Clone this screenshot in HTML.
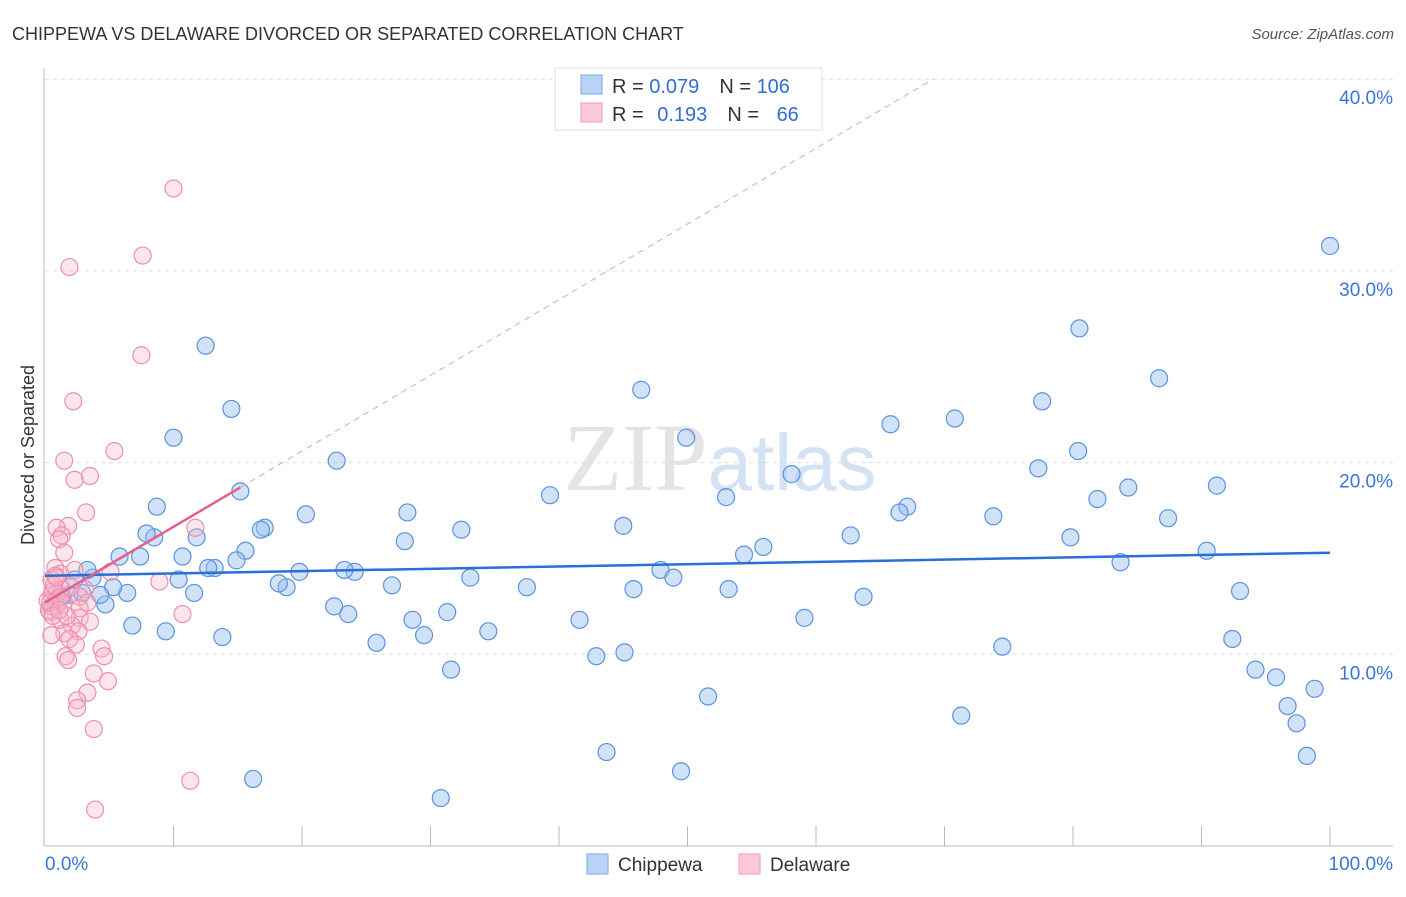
<!DOCTYPE html>
<html><head><meta charset="utf-8"><style>
body{margin:0;background:#fff;font-family:"Liberation Sans",sans-serif;}
svg text{font-family:"Liberation Sans",sans-serif;}
</style></head><body>
<svg id="chart" width="1406" height="892" xmlns="http://www.w3.org/2000/svg">
<text x="12" y="40" font-size="18" fill="#333">CHIPPEWA VS DELAWARE DIVORCED OR SEPARATED CORRELATION CHART</text>
<text x="1394" y="39" font-size="15" fill="#555" text-anchor="end" font-style="italic">Source: ZipAtlas.com</text>
<text x="720" y="490" font-size="96" text-anchor="middle" fill="#e4e4e4"><tspan font-family="Liberation Serif">ZIP</tspan><tspan fill="#d4e2f4" font-size="80">atlas</tspan></text>
<g id="grid"></g><g id="axes"></g><g id="pts"></g><g id="lines"></g>
<text transform="translate(34,455) rotate(-90)" font-size="18" fill="#333" text-anchor="middle">Divorced or Separated</text>
<g>
<rect x="555" y="68" width="267" height="62" fill="#fff" stroke="#ddd"/>
<rect x="581" y="75" width="21" height="19" fill="#b8d3f5" stroke="#7aa8e6"/>
<rect x="581" y="103" width="21" height="19" fill="#fcc9d8" stroke="#ef9ab4"/>
<text x="612" y="93" font-size="20" fill="#333">R = <tspan fill="#2f6fd1">0.079</tspan><tspan dx="20">N = </tspan><tspan fill="#2f6fd1">106</tspan></text>
<text x="612" y="121" font-size="20" fill="#333">R = <tspan fill="#2f6fd1" dx="8">0.193</tspan><tspan dx="20">N = </tspan><tspan fill="#2f6fd1" dx="12">66</tspan></text>
</g>
<g>
<rect x="587" y="854" width="21" height="20" fill="#b8d3f5" stroke="#7aa8e6"/>
<text x="618" y="871" font-size="19" fill="#333">Chippewa</text>
<rect x="739" y="854" width="21" height="20" fill="#fcc9d8" stroke="#ef9ab4"/>
<text x="770" y="871" font-size="19" fill="#333">Delaware</text>
</g>
</svg>
<script>
const blueX=[100,80.5,86.7,77.6,70.8,65.8,80.4,77.3,91.2,84.3,81.9,87.4,73.8,67.1,66.5,79.8,62.7,90.4,83.7,93.0,63.7,59.1,92.4,74.5,94.2,95.8,98.8,96.7,97.4,98.2,71.3,58.1,55.9,54.4,53.2,53.0,49.9,46.4,47.9,48.9,45.8,45.0,45.1,42.9,41.6,43.7,49.5,51.6,39.3,37.5,33.1,32.4,34.5,31.3,31.6,30.8,29.5,28.6,28.2,28.0,27.0,25.8,24.1,23.3,23.6,22.5,22.7,20.3,19.8,18.8,18.2,17.1,16.8,15.6,15.2,14.9,14.5,16.2,13.8,13.2,12.7,12.5,11.8,11.6,10.7,10.4,10.0,9.4,8.7,8.5,7.9,7.4,6.8,6.4,5.8,5.3,4.7,4.3,3.7,3.3,2.9,2.3,1.9,1.3,0.8,0.5,0.9];
const blueY=[31.3,27.0,24.4,23.2,22.3,22.0,20.6,19.7,18.8,18.7,18.1,17.1,17.2,17.7,17.4,16.1,16.2,15.4,14.8,13.3,13.0,11.9,10.8,10.4,9.2,8.8,8.2,7.3,6.4,4.7,6.8,19.4,15.6,15.2,13.4,18.2,21.3,23.8,14.4,14.0,13.4,16.7,10.1,9.9,11.8,4.9,3.9,7.8,18.3,13.5,14.0,16.5,11.2,12.2,9.2,2.5,11.0,11.8,17.4,15.9,13.6,10.6,14.3,14.4,12.1,12.5,20.1,17.3,14.3,13.5,13.7,16.6,16.5,15.4,18.5,14.9,22.8,3.5,10.9,14.5,14.5,26.1,16.1,13.2,15.1,13.9,21.3,11.2,17.7,16.1,16.3,15.1,11.5,13.2,15.1,13.5,12.6,13.1,14.0,14.4,13.2,13.9,13.1,13.0,12.8,12.5,13.2];
const pinkX=[10.0,7.6,1.9,7.5,2.2,5.4,1.5,2.3,3.5,3.2,11.7,1.8,0.9,1.3,1.1,1.5,5.1,2.3,0.8,1.2,0.5,8.9,3.1,1.3,0.5,2.7,0.2,3.3,0.9,2.7,0.4,10.7,2.7,1.2,3.5,2.1,2.6,1.5,0.5,1.9,2.4,4.4,1.6,4.6,1.8,3.8,4.9,3.3,2.5,2.5,3.8,11.3,3.9,0.6,1.0,1.4,0.3,0.7,1.7,0.8,1.2,0.4,2.0,0.6,1.1,0.9];
const pinkY=[34.3,30.8,30.2,25.6,23.2,20.6,20.1,19.1,19.3,17.4,16.6,16.7,16.6,16.2,16.0,15.3,14.3,14.4,14.5,14.2,13.9,13.8,13.4,13.4,13.1,13.0,12.8,12.7,12.5,12.4,12.2,12.1,11.9,11.8,11.7,11.5,11.2,11.1,11.0,10.8,10.5,10.3,9.9,9.9,9.7,9.0,8.6,8.0,7.6,7.2,6.1,3.4,1.9,13.3,12.9,12.6,12.3,13.6,12.0,14.1,13.0,12.7,13.5,12.0,12.3,14.0];
const yTicks=[10,20,30,40];
const yTickLabels=["10.0%","20.0%","30.0%","40.0%"];
const blueLine=[14.1,15.3];
const pinkLine=[12.7,0.395];
const NS="http://www.w3.org/2000/svg";
const sx=v=>45+v*12.85, sy=v=>846-v*19.17;
function mk(p,t,a){const e=document.createElementNS(NS,t);for(const k in a)e.setAttribute(k,a[k]);document.getElementById(p).appendChild(e);return e;}
yTicks.forEach((t,i)=>{
 const g=mk('grid','line',{x1:45,x2:1393,y1:sy(t),y2:sy(t),stroke:'#ddd','stroke-dasharray':'4,4'});
 
 
 const l=mk('axes','text',{x:1393,y:sy(t)+25,'font-size':19,fill:'#3a75d8','text-anchor':'end'});
 l.textContent=yTickLabels[i];
 
 
});
const ax=mk('axes','line',{x1:44,x2:44,y1:68,y2:846,stroke:'#bbb'});


const bx=mk('axes','line',{x1:44,x2:1393,y1:846,y2:846,stroke:'#bbb'});


for(let i=1;i<=10;i++){const t=mk('axes','line',{x1:sx(i*10),x2:sx(i*10),y1:826,y2:846,stroke:'#bbb'});
 
 }
const x0=mk('axes','text',{x:45,y:870,'font-size':19,fill:'#3a75d8'});x0.textContent='0.0%';


const x1=mk('axes','text',{x:1393,y:870,'font-size':19,fill:'#3a75d8','text-anchor':'end'});x1.textContent='100.0%';


blueX.forEach((x,i)=>{const c=mk('pts','circle',{cx:sx(x),cy:sy(blueY[i]),r:8.5,fill:'rgba(150,190,240,0.45)',stroke:'#5b93dc','stroke-width':1.2});
 
 });
pinkX.forEach((x,i)=>{const c=mk('pts','circle',{cx:sx(x),cy:sy(pinkY[i]),r:8.5,fill:'rgba(250,180,200,0.35)',stroke:'#ee8fae','stroke-width':1.2});
 
 });
const bl=mk('lines','line',{x1:sx(0),y1:sy(blueLine[0]),x2:sx(100),y2:sy(blueLine[1]),stroke:'#2a6fd6','stroke-width':2.5});


const xe=(40-pinkLine[0])/pinkLine[1];
const pd=mk('lines','line',{x1:sx(15.2),y1:sy(pinkLine[0]+pinkLine[1]*15.2),x2:sx(xe),y2:sy(40),stroke:'#eaa0b8','stroke-width':1,'stroke-dasharray':'6,5'});


const pl=mk('lines','line',{x1:sx(0),y1:sy(pinkLine[0]),x2:sx(15.2),y2:sy(pinkLine[0]+pinkLine[1]*15.2),stroke:'#e2608a','stroke-width':2.5});


</script>
</body></html>
